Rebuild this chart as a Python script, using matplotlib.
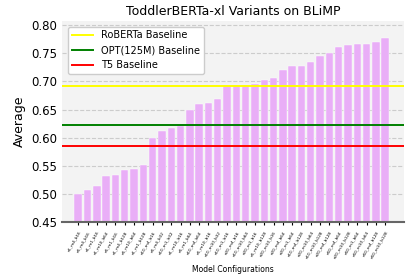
import matplotlib.pyplot as plt
import numpy as np

configs = ["e1_m4_b16", "e5_m4_b16", "e1_m1_b16", "e1_m10_b64", "e5_m1_b16",
           "e1_m4_b128", "e5_m10_b64", "e1_m1_b128", "e10_m4_b16", "e5_m4_b32",
           "e10_m1_b32", "e1_m10_b16", "e5_m1_b64", "e10_m4_b64", "e5_m10_b16",
           "e10_m10_b32", "e10_m1_b16", "e20_m4_b16", "e10_m10_b64", "e20_m1_b16",
           "e5_m10_b128", "e20_m10_b16", "e20_m4_b64", "e20_m1_b64", "e10_m4_b128",
           "e20_m10_b64", "e10_m10_b128", "e20_m4_b128", "e50_m4_b64", "e20_m10_b128",
           "e50_m1_b64", "e50_m10_b64", "e50_m4_b128", "e50_m10_b128"]
scores = [0.500, 0.507, 0.514, 0.532, 0.533, 0.543, 0.545, 0.552,
          0.600, 0.611, 0.618, 0.621, 0.650, 0.659, 0.661, 0.668,
          0.691, 0.691, 0.692, 0.696, 0.702, 0.707, 0.721, 0.727,
          0.727, 0.734, 0.745, 0.751, 0.761, 0.764, 0.766, 0.766,
          0.770, 0.778]

roberta = 0.692
opt = 0.623
t5 = 0.585

fig = plt.figure(figsize=(4.15, 2.77), dpi=100)
ax = fig.add_axes([0.149, 0.199, 0.824, 0.726])
ax.set_facecolor("#f3f3f3")
ax.grid(axis="y", linestyle="--", color="#cccccc", linewidth=0.8)
ax.set_axisbelow(True)

x = np.arange(len(configs))
ax.bar(x, scores, width=0.8, color="#e9aef7", edgecolor="white", linewidth=0.3)

ax.axhline(roberta, color="yellow", linewidth=1.4, label="RoBERTa Baseline")
ax.axhline(opt, color="green", linewidth=1.4, label="OPT(125M) Baseline")
ax.axhline(t5, color="red", linewidth=1.4, label="T5 Baseline")

ax.set_ylim(0.45, 0.808)
ax.set_xlim(-1.76, len(configs) + 1.0)
ax.set_xticks(x)
ax.set_xticklabels(configs, rotation=60, fontsize=3, ha="right", rotation_mode="anchor")
ax.tick_params(axis="x", length=2.5, width=0.8)
ax.tick_params(axis="y", labelsize=8.5, length=0)

for s in ["top", "right", "left"]:
    ax.spines[s].set_visible(False)
ax.spines["bottom"].set_color("#666666")
ax.spines["bottom"].set_linewidth(1.5)

ax.set_title("ToddlerBERTa-xl Variants on BLiMP", fontsize=9, pad=4)
ax.set_ylabel("Average", fontsize=9)
ax.set_xlabel("Model Configurations", fontsize=5.5)
ax.legend(loc="upper left", fontsize=7, framealpha=1, edgecolor="#cccccc",
          borderaxespad=0.6, handlelength=2.2)

fig.savefig("out.png", dpi=100)
